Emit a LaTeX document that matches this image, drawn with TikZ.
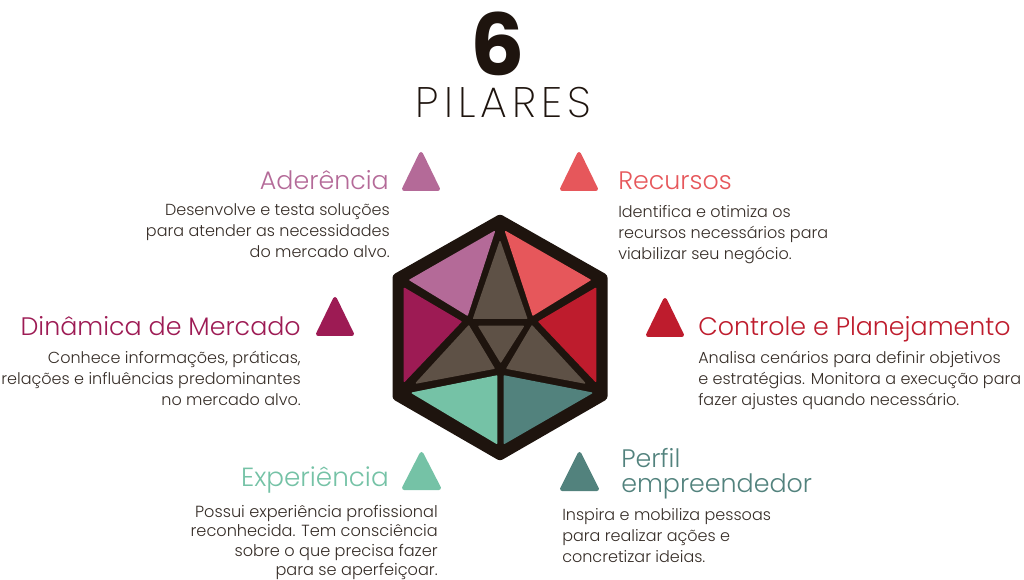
\documentclass[tikz,border=0pt]{standalone}
\usepackage{fontspec}
\setmainfont{Poppins}[UprightFont=* Light,BoldFont=* Bold]
\newfontfamily\headfont{Poppins}[UprightFont=* ExtraLight,LetterSpace=12]
\definecolor{ink}{HTML}{1E140E}
\definecolor{stone}{HTML}{5E5146}
\definecolor{aderencia}{HTML}{B46A98}
\definecolor{recursos}{HTML}{E6575B}
\definecolor{dinamica}{HTML}{9D1B54}
\definecolor{controle}{HTML}{BE1C2D}
\definecolor{experiencia}{HTML}{75C2A6}
\definecolor{perfil}{HTML}{52827D}
\begin{document}
\begin{tikzpicture}[
    x=0.75pt, y=-0.75pt,
    facet/.style={line join=round, line width=1pt},
    marker/.style={line join=round, line width=3pt},
    pillar/.style={font=\fontsize{19}{19}\selectfont, inner sep=0pt},
    blurb/.style={font=\fontsize{12}{15.75}\selectfont, text=ink!90, inner sep=0pt},
]
\useasboundingbox (0,0) rectangle (1024,580);

% Heading
\node[font=\fontsize{64}{64}\selectfont\bfseries, text=ink, inner sep=0pt] (six) at (497.5,43.5) {6};
\node[font=\fontsize{32}{32}\headfont, text=ink, inner sep=0pt] (pilares) at (503.5,102.5) {PILARES};

% Hexagon with its facets
\fill[ink, rounded corners=2pt] (500,214) -- (607.5,275) -- (607.5,399) -- (500,461) -- (392.5,399) -- (392.5,275) -- cycle;
\begin{scope}[shift={(380,200)}, x=0.25pt, y=-0.25pt]
\filldraw[facet, aderencia] (343,95) -- (90,240) -- (262,345) -- cycle;
\filldraw[facet, recursos] (377,95) -- (630,240) -- (459,345) -- cycle;
\filldraw[facet, dinamica] (73,265) -- (243,365) -- (73,544) -- cycle;
\filldraw[facet, controle] (647,265) -- (477,365) -- (647,544) -- cycle;
\filldraw[facet, experiencia] (97,579) -- (350,528) -- (350,730) -- cycle;
\filldraw[facet, perfil] (373,528) -- (635,579) -- (373,730) -- cycle;
\filldraw[facet, stone] (360,125) -- (440,355) -- (281,355) -- cycle;
\filldraw[facet, stone] (266,378) -- (342,505) -- (109,549) -- cycle;
\filldraw[facet, stone] (456,378) -- (614,549) -- (381,505) -- cycle;
\filldraw[facet, stone] (297,379) -- (430,379) -- (362,486) -- cycle;
\end{scope}

% Upper row
\filldraw[marker, aderencia] (421,154) -- (438,189) -- (404,189) -- cycle;
\node[pillar, text=aderencia, anchor=base east] (aderenciaT) at (389,190) {Aderência};
\node[blurb, align=right, anchor=north east] (aderenciaB) at (390,203) {Desenvolve e testa soluções\\para atender as necessidades\\do mercado alvo.};

\filldraw[marker, recursos] (579,154) -- (596,189) -- (562,189) -- cycle;
\node[pillar, text=recursos, anchor=base west] (recursosT) at (618,190) {Recursos};
\node[blurb, align=left, anchor=north west] (recursosB) at (618,205) {Identifica e otimiza os\\recursos necessários para\\viabilizar seu negócio.};

% Middle row
\filldraw[marker, dinamica] (335,299) -- (352,334) -- (318,334) -- cycle;
\node[pillar, text=dinamica, anchor=base east] (dinamicaT) at (301,336) {Dinâmica de Mercado};
\node[blurb, align=right, anchor=north east] (dinamicaB) at (301,351) {Conhece informações, práticas,\\relações e influências predominantes\\no mercado alvo.};

\filldraw[marker, controle] (665,300) -- (682,335) -- (648,335) -- cycle;
\node[pillar, text=controle, anchor=base west] (controleT) at (698,336) {Controle e Planejamento};
\node[blurb, align=left, anchor=north west] (controleB) at (698,351) {Analisa cenários para definir objetivos\\e estratégias. Monitora a execução para\\fazer ajustes quando necessário.};

% Lower row
\filldraw[marker, experiencia] (421.5,454) -- (439,488) -- (404,488) -- cycle;
\node[pillar, font=\fontsize{19.7}{19.7}\selectfont, text=experiencia, anchor=base east] (experienciaT) at (389,487) {Experiência};
\node[blurb, font=\fontsize{12.1}{14.5}\selectfont, align=right, anchor=north east] (experienciaB) at (438,505) {Possui experiência profissional\\reconhecida. Tem consciência\\sobre o que precisa fazer\\para se aperfeiçoar.};

\filldraw[marker, perfil] (579.5,454) -- (597,489) -- (562,489) -- cycle;
\node[pillar, text=perfil, align=left, anchor=north west] (perfilT) at (621,448) {Perfil\\empreendedor};
\node[blurb, align=left, anchor=north west] (perfilB) at (562,508) {Inspira e mobiliza pessoas\\para realizar ações e\\concretizar ideias.};
\end{tikzpicture}
\end{document}
